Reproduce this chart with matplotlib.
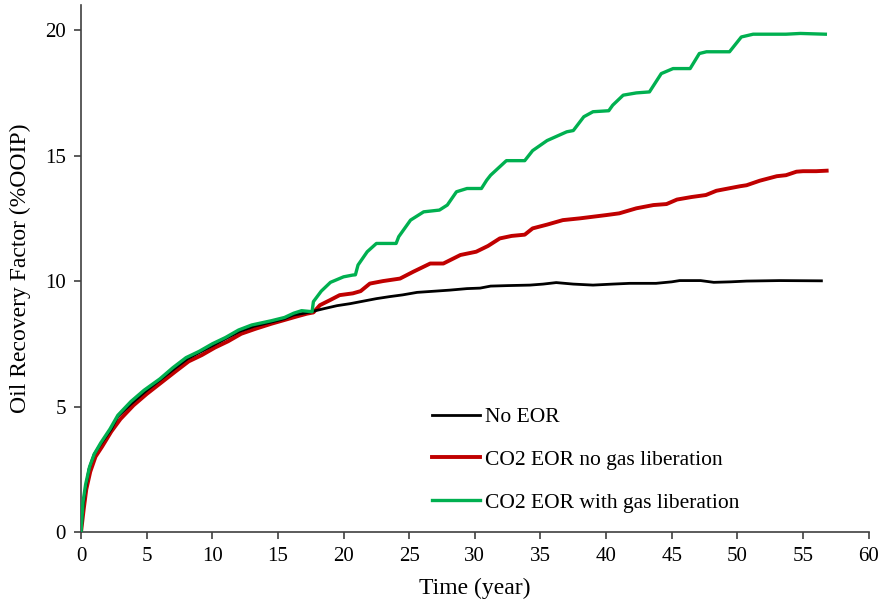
import matplotlib
matplotlib.use("Agg")
import matplotlib.pyplot as plt

plt.rcParams['font.family'] = ['Liberation Serif', 'DejaVu Serif']

# No EOR
t_base = [0, 0.15, 0.3, 0.6, 1.0, 1.5, 2.3, 2.8, 3.8, 4.9,
          6.0, 7.1, 8.1, 9.0, 10.1, 11.0, 12.1, 13.2, 14.6, 15.5,
          16.2, 17.0, 17.7, 18.5, 19.5, 20.5, 21.5, 22.5, 23.5, 24.5,
          25.6, 27.0, 28.1, 29.4, 30.4, 31.2, 32.5, 34.2, 35.2, 36.2,
          37.5, 39.0, 40.5, 41.8, 43.8, 45.0, 45.6, 47.2, 48.2, 49.5,
          50.7, 53.2, 56.4]
rf_base = [0, 1.0, 1.6, 2.5, 3.1, 3.5, 4.1, 4.6, 5.1, 5.6,
           6.05, 6.5, 6.9, 7.15, 7.45, 7.7, 8.0, 8.2, 8.38, 8.5,
           8.65, 8.72, 8.8, 8.9, 9.02, 9.1, 9.2, 9.3, 9.38, 9.45,
           9.55, 9.6, 9.64, 9.7, 9.72, 9.8, 9.82, 9.84, 9.88, 9.94,
           9.88, 9.84, 9.88, 9.91, 9.91, 9.97, 10.02, 10.02, 9.95, 9.97,
           10.0, 10.02, 10.01]

# CO2 EOR, no gas liberation
t_nolib = [0, 0.2, 0.4, 0.7, 1.1, 1.6, 2.3, 3.0, 4.0, 5.0,
           6.1, 7.2, 8.2, 9.2, 10.2, 11.2, 12.2, 13.3, 14.5, 15.5,
           16.5, 17.2, 17.7, 18.2, 19.0, 19.7, 20.7, 21.3, 22.0, 23.0,
           24.3, 25.3, 26.6, 27.6, 28.9, 30.1, 31.0, 31.9, 32.8, 33.8,
           34.4, 35.5, 36.7, 38.0, 40.0, 41.0, 42.3, 43.6, 44.6, 45.4,
           46.5, 47.6, 48.4, 50.2, 50.7, 51.7, 53.0, 53.7, 54.5, 55.0,
           56.0, 56.8]
rf_nolib = [0, 0.9, 1.7, 2.4, 3.0, 3.4, 4.0, 4.5, 5.05, 5.5,
            5.95, 6.4, 6.8, 7.05, 7.35, 7.6, 7.9, 8.1, 8.3, 8.45,
            8.6, 8.7, 8.75, 9.04, 9.25, 9.44, 9.51, 9.6, 9.9, 10.0,
            10.1, 10.37, 10.7, 10.7, 11.04, 11.17, 11.4, 11.7, 11.8, 11.85,
            12.1, 12.25, 12.43, 12.5, 12.63, 12.7, 12.9, 13.03, 13.07, 13.25,
            13.35, 13.43, 13.6, 13.78, 13.82, 14.0, 14.18, 14.22, 14.36, 14.38,
            14.38, 14.4]

# CO2 EOR, with gas liberation
t_lib = [0, 0.15, 0.35, 0.65, 1.0, 1.5, 2.2, 2.8, 3.8, 4.8,
         6.0, 7.0, 8.0, 9.0, 10.0, 11.0, 12.0, 13.0, 14.5, 15.5,
         16.2, 16.8, 17.6, 17.7, 18.3, 19.0, 20.0, 20.7, 20.9, 21.1,
         21.8, 22.5, 24.0, 24.2, 25.1, 26.1, 27.3, 27.9, 28.6, 29.4,
         30.5, 30.9, 31.2, 32.4, 33.8, 34.4, 35.5, 37.0, 37.5, 38.3,
         39.0, 40.2, 40.5, 41.3, 42.3, 43.3, 44.2, 45.1, 46.4, 47.1,
         47.65, 49.4, 50.3, 51.2, 53.7, 54.8, 56.7]
rf_lib = [0, 1.2, 1.9, 2.6, 3.1, 3.55, 4.1, 4.65, 5.2, 5.65,
          6.1, 6.55, 6.95, 7.2, 7.5, 7.75, 8.05, 8.25, 8.42, 8.55,
          8.72, 8.82, 8.78, 9.18, 9.6, 9.95, 10.17, 10.24, 10.25, 10.64,
          11.17, 11.5, 11.5, 11.77, 12.43, 12.76, 12.83, 13.03, 13.56, 13.69,
          13.69, 14.02, 14.22, 14.8, 14.8, 15.2, 15.6, 15.95, 16.0, 16.55,
          16.75, 16.79, 17.01, 17.41, 17.5, 17.54, 18.27, 18.47, 18.47, 19.07,
          19.14, 19.14, 19.73, 19.84, 19.84, 19.87, 19.84]

labels = ["No EOR", "CO2 EOR no gas liberation", "CO2 EOR with gas liberation"]
x_ticks = list(range(0, 61, 5))
y_ticks = [0, 5, 10, 15, 20]

fig = plt.figure(figsize=(8.81, 6.07), dpi=100)
ax = fig.add_axes([0.092, 0.1236, 0.894, 0.868])

ax.plot(t_base, rf_base, color="black", lw=2.0, label=labels[0], zorder=3)
ax.plot(t_nolib, rf_nolib, color="#C00000", lw=2.8, label=labels[1], zorder=2)
ax.plot(t_lib, rf_lib, color="#00B050", lw=2.4, label=labels[2], zorder=4)

ax.set_xlim(0, 60)
ax.set_ylim(0, 21)
ax.set_xticks(x_ticks)
ax.set_yticks(y_ticks)

for side in ("top", "right"):
    ax.spines[side].set_visible(False)
for side in ("left", "bottom"):
    ax.spines[side].set_color("#404040")
    ax.spines[side].set_linewidth(1.2)
ax.tick_params(direction="out", length=5, width=1.2, color="#404040",
               labelsize=15, pad=6)

ax.set_xlabel("Time (year)", fontsize=17, labelpad=8)
ax.set_ylabel("Oil Recovery Factor (%OOIP)", fontsize=17, labelpad=10)

ax.legend(loc="upper left", bbox_to_anchor=(0.445, 0.237), frameon=False,
          fontsize=15.5, handlelength=2.25, handletextpad=0.25,
          labelspacing=1.05, borderpad=0, borderaxespad=0)

fig.savefig("out.png", dpi=100)
